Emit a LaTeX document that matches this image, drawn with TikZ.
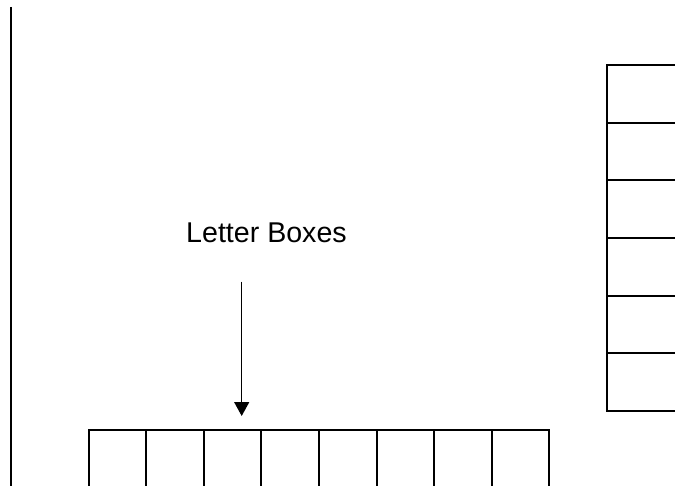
\documentclass[tikz,border=0pt]{standalone}
\usepackage{fontspec}
\setmainfont{Liberation Sans}
\usetikzlibrary{positioning, arrows.meta}

\tikzset{
  rowbox/.style={draw, line width=1pt, inner sep=0pt, outer sep=0pt,
    minimum width=28.8pt, minimum height=28.8pt},
  colbox/.style={draw, line width=1pt, inner sep=0pt, outer sep=0pt,
    minimum width=45pt, minimum height=28.85pt},
}

\begin{document}
\begin{tikzpicture}[x=0.5pt, y=-0.5pt]
    % page frame
    \useasboundingbox (0,0) rectangle (675,486);
    \clip (0,0) rectangle (675,486);

    % margin line on the left
    \coordinate (margintop) at (11,7);
    \coordinate (marginbot) at (11,500);
    \draw[line width=1pt] (margintop) -- (marginbot);

    % row of letter boxes along the bottom
    \node[rowbox] (r1) at (117.3,458.8) {};
    \foreach \i [remember=\i as \j (initially 1)] in {2,...,8} {
        \node[rowbox, right=0pt of r\j] (r\i) {};
    }

    % column of boxes on the right
    \node[colbox] (c1) at (651.7,93.85) {};
    \foreach \i [remember=\i as \j (initially 1)] in {2,...,6} {
        \node[colbox, below=0pt of c\j] (c\i) {};
    }

    % label and arrow
    \node[anchor=base, font=\fontsize{14.3pt}{17pt}\selectfont] (label) at (266.5,243) {Letter Boxes};
    \coordinate (arrowtop) at (241.7,281.7);
    \coordinate (arrowtip) at (241.7,416);
    \draw[line width=0.7pt, -{Triangle[width=7.5pt, length=7pt]}] (arrowtop) -- (arrowtip);
\end{tikzpicture}
\end{document}
